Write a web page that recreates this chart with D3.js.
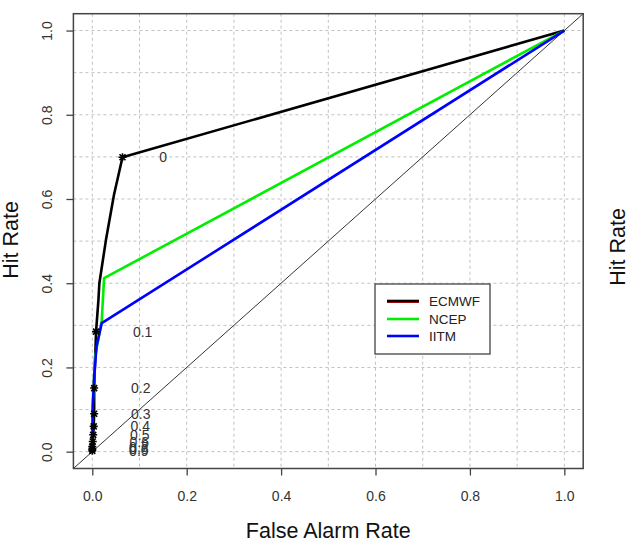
<!DOCTYPE html>
<html>
<head>
<meta charset="utf-8">
<script src="https://cdn.jsdelivr.net/npm/d3@7/dist/d3.min.js"></script>
<style>
  body { margin: 0; background: #fff; }
  svg { display: block; font-family: "Liberation Sans", Arial, sans-serif; }
</style>
</head>
<body>
<div id="chart"></div>
<script>
// ROC curves (false alarm rate, hit rate)
var ecmwfLine = [[0, 0], [0, 0.002], [0, 0.006], [0, 0.012], [0.001, 0.024], [0.002, 0.04],
  [0.003, 0.06], [0.004, 0.09], [0.004, 0.151], [0.008, 0.285], [0.013, 0.36],
  [0.015, 0.40], [0.029, 0.503], [0.046, 0.61], [0.064, 0.699], [1, 1]];
var thresholds = ['0', '0.1', '0.2', '0.3', '0.4', '0.5', '0.6', '0.7', '0.8', '0.9'];
var thrFar = [0.064, 0.008, 0.004, 0.004, 0.003, 0.002, 0.001, 0, 0, 0];
var thrHit = [0.699, 0.285, 0.151, 0.090, 0.060, 0.040, 0.024, 0.012, 0.006, 0.002];
var ncepLine = [[0, 0], [0.001, 0.116], [0.006, 0.226], [0.02, 0.31], [0.025, 0.412], [1, 1]];
var iitmLine = [[0, 0], [0.001, 0.107], [0.004, 0.178], [0.009, 0.25], [0.02, 0.305], [1, 1]];
var seriesNames = ['ECMWF', 'NCEP', 'IITM'];
var seriesColors = ['#000000', '#00ee00', '#0000ff'];
var tickValues = [0, 0.2, 0.4, 0.6, 0.8, 1.0];
var gridValues = d3.range(0, 11).map(function(i){ return i / 10; });

var W = 641, H = 549;
var svg = d3.select('#chart').append('svg').attr('width', W).attr('height', H);

var x = d3.scaleLinear().domain([-0.04, 1.04]).range([73.4, 583.2]);
var y = d3.scaleLinear().domain([-0.04, 1.04]).range([468.5, 13.7]);

// grid
svg.append('g').selectAll('line.v').data(gridValues).enter().append('line')
  .attr('x1', function(d){ return x(d); }).attr('x2', function(d){ return x(d); })
  .attr('y1', y(1.04)).attr('y2', y(-0.04))
  .attr('stroke', '#c0c0c0').attr('stroke-width', 1).attr('stroke-dasharray', '3,3');
svg.append('g').selectAll('line.h').data(gridValues).enter().append('line')
  .attr('y1', function(d){ return y(d); }).attr('y2', function(d){ return y(d); })
  .attr('x1', x(-0.04)).attr('x2', x(1.04))
  .attr('stroke', '#c0c0c0').attr('stroke-width', 1).attr('stroke-dasharray', '3,3');

// diagonal
svg.append('line')
  .attr('x1', x(-0.04)).attr('y1', y(-0.04)).attr('x2', x(1.04)).attr('y2', y(1.04))
  .attr('stroke', '#000').attr('stroke-width', 0.8);

var line = d3.line().x(function(d){ return x(d[0]); }).y(function(d){ return y(d[1]); });
var curves = [ecmwfLine, ncepLine, iitmLine];
curves.forEach(function(c, i){
  svg.append('path').datum(c).attr('d', line)
    .attr('fill', 'none').attr('stroke', seriesColors[i]).attr('stroke-width', 2.6)
    .attr('stroke-linejoin', 'round');
});

// star markers at thresholds (ECMWF)
var star = 'M-4,0H4M0,-4V4M-3,-3L3,3M-3,3L3,-3';
svg.append('g').selectAll('path').data(thresholds).enter().append('path')
  .attr('d', star)
  .attr('transform', function(d, i){ return 'translate(' + x(thrFar[i]) + ',' + y(thrHit[i]) + ')'; })
  .attr('stroke', '#000').attr('stroke-width', 1.6).attr('fill', 'none');

svg.append('g').selectAll('text').data(thresholds).enter().append('text')
  .attr('x', function(d, i){ return x(thrFar[i] + 0.078); })
  .attr('y', function(d, i){ return y(thrHit[i]); })
  .attr('dominant-baseline', 'central')
  .attr('font-size', 14).attr('fill', '#333')
  .text(function(d){ return d; });

// box
svg.append('rect')
  .attr('x', x(-0.04)).attr('y', y(1.04))
  .attr('width', x(1.04) - x(-0.04)).attr('height', y(-0.04) - y(1.04))
  .attr('fill', 'none').attr('stroke', '#444').attr('stroke-width', 1.5);

// axes
var xAxis = d3.axisBottom(x).tickValues(tickValues).tickFormat(d3.format('.1f')).tickSize(7).tickPadding(16);
var gx = svg.append('g').attr('transform', 'translate(0,' + y(-0.04) + ')').call(xAxis);
gx.select('.domain').remove();
gx.selectAll('text').attr('font-size', 14).attr('fill', '#333').attr('font-family', null);
gx.selectAll('line').attr('stroke', '#444').attr('stroke-width', 1.3);

var yAxis = d3.axisLeft(y).tickValues(tickValues).tickFormat(d3.format('.1f')).tickSize(7).tickPadding(0);
var gy = svg.append('g').attr('transform', 'translate(' + x(-0.04) + ',0)').call(yAxis);
gy.select('.domain').remove();
gy.selectAll('line').attr('stroke', '#444').attr('stroke-width', 1.3);
gy.selectAll('text')
  .attr('font-size', 14).attr('fill', '#333').attr('font-family', null)
  .attr('x', 0).attr('dy', null).attr('text-anchor', 'middle')
  .attr('transform', 'translate(-26,0) rotate(-90)')
  .attr('y', 0).attr('dominant-baseline', 'central');

// titles
svg.append('text').attr('x', x(0.5)).attr('y', 538).attr('text-anchor', 'middle')
  .attr('font-size', 21.5).attr('fill', '#111').text('False Alarm Rate');
svg.append('text').attr('transform', 'translate(17.5,240) rotate(-90)').attr('text-anchor', 'middle')
  .attr('font-size', 21.5).attr('fill', '#111').text('Hit Rate');
svg.append('text').attr('transform', 'translate(625,247) rotate(-90)').attr('text-anchor', 'middle')
  .attr('font-size', 21.5).attr('fill', '#111').text('Hit Rate');

// legend
var lg = svg.append('g').attr('transform', 'translate(375,284)');
lg.append('rect').attr('width', 115).attr('height', 70)
  .attr('fill', '#fff').attr('stroke', '#444').attr('stroke-width', 1.3);
var ly = [17, 35, 52];
seriesNames.forEach(function(n, i){
  if (i === 0) {
    lg.append('line').attr('x1', 12).attr('x2', 44).attr('y1', ly[i] + 1.2).attr('y2', ly[i] + 1.2)
      .attr('stroke', '#e00000').attr('stroke-width', 1.5);
  }
  lg.append('line').attr('x1', 12).attr('x2', 44).attr('y1', ly[i]).attr('y2', ly[i])
    .attr('stroke', seriesColors[i]).attr('stroke-width', 2.6);
  lg.append('text').attr('x', 54).attr('y', ly[i]).attr('dominant-baseline', 'central')
    .attr('font-size', 13.5).attr('fill', '#222').text(n);
});
</script>
</body>
</html>
